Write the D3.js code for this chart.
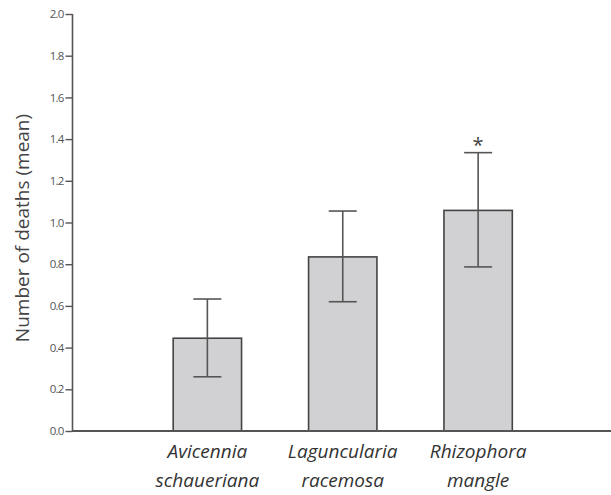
<!DOCTYPE html>
<html><head><meta charset="utf-8">
<script src="https://cdn.jsdelivr.net/npm/d3@7"></script>
<style>body{margin:0;background:#fff}svg{display:block}</style>
</head><body>
<script>
const categories = [["Avicennia","schaueriana"],["Laguncularia","racemosa"],["Rhizophora","mangle"]];
const means = [0.445, 0.835, 1.058];
const errLow = [0.26, 0.62, 0.787];
const errHigh = [0.633, 1.055, 1.335];
const signif = ["", "", "*"];
const yTicks = [0,0.2,0.4,0.6,0.8,1.0,1.2,1.4,1.6,1.8,2.0];
const yLabel = "Number of deaths (mean)";

const W = 611, H = 495;
const svg = d3.select("body").append("svg").attr("width", W).attr("height", H);
const y = d3.scaleLinear().domain([0, 2]).range([431, 14]);
const names = categories.map(c => c.join(" "));
const x = d3.scaleBand().domain(names).range([105.5, 580]).paddingInner(0.495).paddingOuter(0.5);
const axisColor = "#555";

// bars
svg.selectAll("rect.bar").data(means).join("rect")
  .attr("x", (d,i) => x(names[i]))
  .attr("y", d => y(d))
  .attr("width", x.bandwidth())
  .attr("height", d => y(0) - y(d))
  .attr("fill", "#d1d1d3").attr("stroke", "#444").attr("stroke-width", 1.6);

// error bars
const cap = 14;
means.forEach((m,i) => {
  const cx = x(names[i]) + x.bandwidth()/2;
  const g = svg.append("g").attr("stroke", "#555").attr("stroke-width", 1.6);
  g.append("line").attr("x1", cx).attr("x2", cx).attr("y1", y(errLow[i])).attr("y2", y(errHigh[i]));
  g.append("line").attr("x1", cx-cap).attr("x2", cx+cap).attr("y1", y(errLow[i])).attr("y2", y(errLow[i]));
  g.append("line").attr("x1", cx-cap).attr("x2", cx+cap).attr("y1", y(errHigh[i])).attr("y2", y(errHigh[i]));
  if (signif[i]) {
    svg.append("text").attr("x", cx).attr("y", y(errHigh[i]) - 1)
      .attr("text-anchor", "middle").attr("font-family", "Open Sans, sans-serif")
      .attr("font-size", 20).attr("fill", "#444").text(signif[i]);
  }
});

// y axis
const yAxis = d3.axisLeft(y).tickValues(yTicks).tickSize(7).tickPadding(2).tickFormat(d3.format(".1f"));
const ga = svg.append("g").attr("transform", "translate(72.5,0)").call(yAxis);
ga.select(".domain").attr("stroke", axisColor).attr("stroke-width", 1.6).attr("d", `M0,${y(2)}V${y(0)}`);
ga.selectAll(".tick line").attr("stroke", axisColor).attr("stroke-width", 1.4);
ga.selectAll(".tick text").attr("font-family", "Open Sans, sans-serif").attr("font-size", 11.5)
  .attr("letter-spacing", "-0.8px").attr("fill", "#555");

// x axis line
svg.append("line").attr("x1", 72).attr("x2", W).attr("y1", y(0)).attr("y2", y(0))
  .attr("stroke", axisColor).attr("stroke-width", 1.8);

// x labels
categories.forEach((c,i) => {
  const cx = x(names[i]) + x.bandwidth()/2;
  const t = svg.append("text").attr("text-anchor", "middle").attr("font-family", "Open Sans, sans-serif")
    .attr("font-style", "italic").attr("font-size", 19).attr("fill", "#333");
  t.append("tspan").attr("x", cx).attr("y", 458).text(c[0]);
  t.append("tspan").attr("x", cx).attr("y", 487).text(c[1]);
});

// y label
svg.append("text").attr("transform", `translate(29,228) rotate(-90)`)
  .attr("text-anchor", "middle").attr("font-family", "Open Sans, sans-serif")
  .attr("font-size", 19).attr("fill", "#444").text(yLabel);
</script>
</body></html>
